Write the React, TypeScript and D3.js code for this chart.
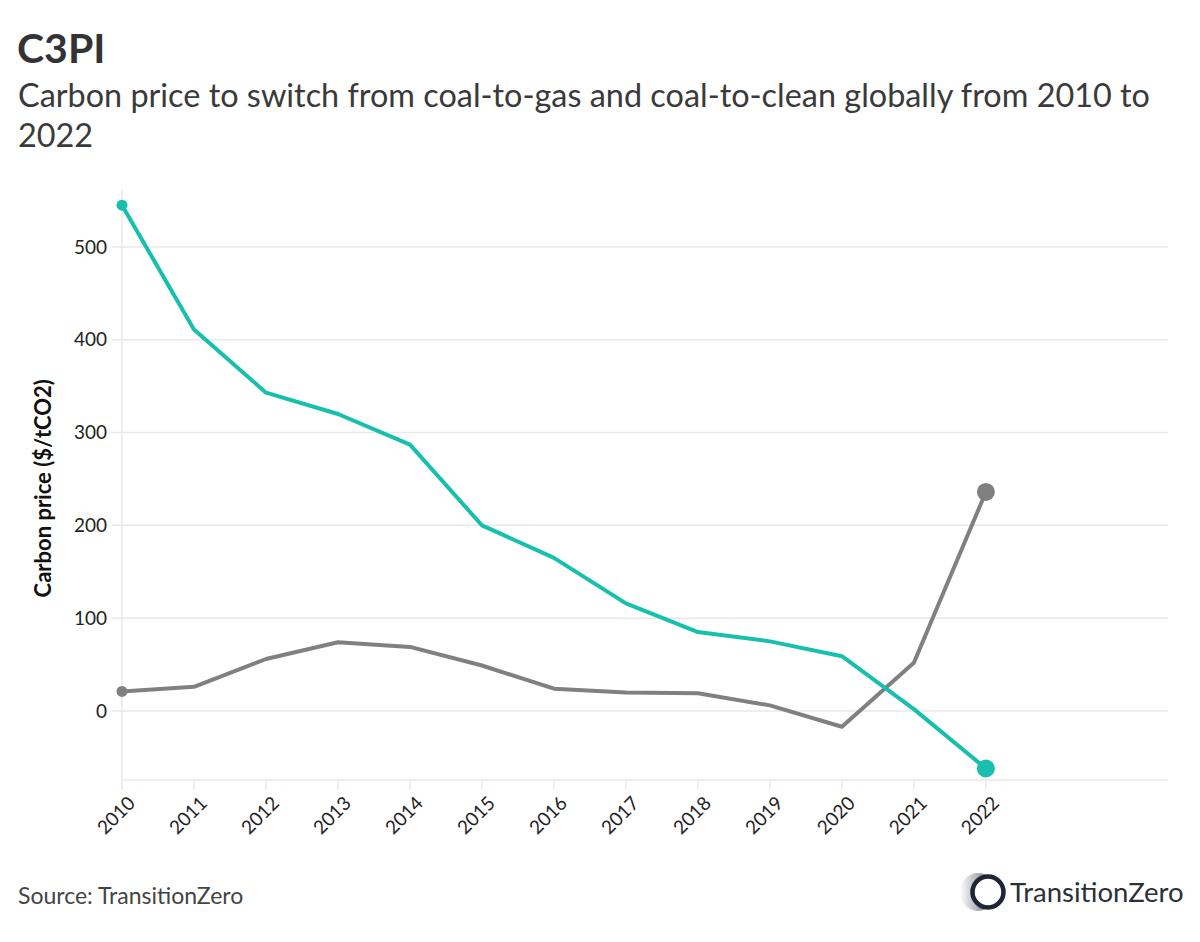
import * as d3 from "d3";

const years = [2010, 2011, 2012, 2013, 2014, 2015, 2016, 2017, 2018, 2019, 2020, 2021, 2022];
const coalToClean = [545, 411, 343, 320, 287, 200, 165, 116, 85, 75, 59, 2, -62];
const coalToGas = [21, 26, 56, 74, 69, 49, 24, 20, 19, 6, -17, 52, 236];
const yTicks = [0, 100, 200, 300, 400, 500];

const TEAL = "#17bfad";
const GRAY = "#808080";
const FONT = "'Source Sans Pro', Lato, 'Noto Sans', sans-serif";

export default function App() {
  const W = 1200;
  const H = 942;
  const margin = { top: 190, right: 32, bottom: 162, left: 122 };

  const x = d3.scaleLinear().domain([2010, 2024.53]).range([margin.left, W - margin.right]);
  const y = d3.scaleLinear().domain([-74.4, 561.4]).range([H - margin.bottom, margin.top]);

  const line = d3.line<number>().x((_, i) => x(years[i])).y(d => y(d));
  const last = years.length - 1;

  return (
    <svg width={W} height={H} style={{ position: "absolute", left: 0, top: 0, background: "#fff" }} fontFamily={FONT}>
      <defs>
        <linearGradient id="fade" x1="0" x2="1" y1="0" y2="0">
          <stop offset="0" stopColor="#1e2535" stopOpacity="0" />
          <stop offset="0.6" stopColor="#1e2535" stopOpacity="0.45" />
          <stop offset="1" stopColor="#1e2535" stopOpacity="0.9" />
        </linearGradient>
      </defs>

      <text x={17} y={63} fontSize={41} fontWeight={700} fill="#333">C3PI</text>
      <text x={18} y={107} fontSize={32.4} fill="#3a3a3a">
        Carbon price to switch from coal-to-gas and coal-to-clean globally from 2010 to
      </text>
      <text x={18} y={147} fontSize={32.4} fill="#3a3a3a">2022</text>

      {/* grid */}
      {yTicks.map(t => (
        <g key={t}>
          <line x1={margin.left - 10} x2={W - margin.right} y1={y(t)} y2={y(t)} stroke="#e9e9e9" strokeWidth={1.5} />
          <text x={107} y={y(t)} dy="0.35em" textAnchor="end" fontSize={19} fill="#222">{t}</text>
        </g>
      ))}
      <line x1={margin.left} x2={margin.left} y1={margin.top} y2={H - margin.bottom} stroke="#e9e9e9" strokeWidth={1.5} />
      <line x1={margin.left} x2={W - margin.right} y1={H - margin.bottom} y2={H - margin.bottom} stroke="#e9e9e9" strokeWidth={1.5} />

      {years.map(yr => (
        <g key={yr} transform={`translate(${x(yr)},${H - margin.bottom})`}>
          <line y1={0} y2={10} stroke="#e9e9e9" strokeWidth={1.5} />
          <text transform="translate(5,15) rotate(-45)" textAnchor="end" dy="0.7em" fontSize={19} fill="#222">{yr}</text>
        </g>
      ))}

      <text transform={`translate(51,${y(240)}) rotate(-90)`} textAnchor="middle" fontSize={22} fontWeight={700} fill="#111">
        Carbon price ($/tCO2)
      </text>

      <path d={line(coalToGas) ?? ""} fill="none" stroke={GRAY} strokeWidth={4} strokeLinejoin="round" />
      <path d={line(coalToClean) ?? ""} fill="none" stroke={TEAL} strokeWidth={4} strokeLinejoin="round" />

      <circle cx={x(years[0])} cy={y(coalToGas[0])} r={5.5} fill={GRAY} />
      <circle cx={x(years[last])} cy={y(coalToGas[last])} r={9} fill={GRAY} />
      <circle cx={x(years[0])} cy={y(coalToClean[0])} r={5.5} fill={TEAL} />
      <circle cx={x(years[last])} cy={y(coalToClean[last])} r={9} fill={TEAL} />

      <text x={18} y={904} fontSize={23} fill="#444">Source: TransitionZero</text>

      {/* logo */}
      <g transform="translate(988,892)">
        <ellipse cx={-10} cy={0} rx={18} ry={19} fill="url(#fade)" />
        <circle r={15.5} fill="#fff" />
        <circle r={15.5} fill="none" stroke="#1e2535" strokeWidth={4.5} />
      </g>
      <text x={1010} y={902} fontSize={27.5} fill="#2a2f3a">TransitionZero</text>
    </svg>
  );
}
